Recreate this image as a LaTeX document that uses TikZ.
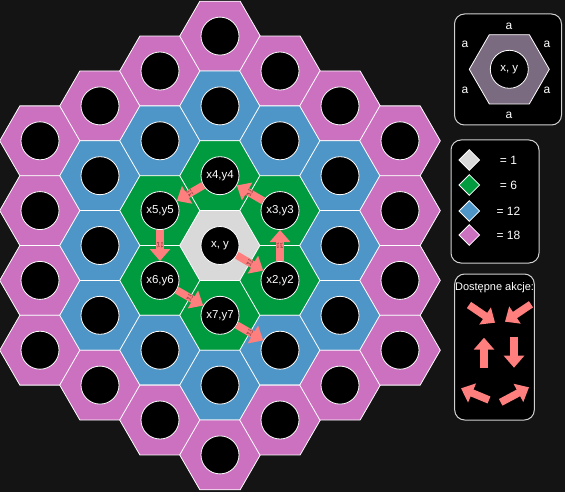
\documentclass[tikz,border=0pt]{standalone}
\usepackage{fontspec}
\setmainfont{Liberation Sans}
\usetikzlibrary{arrows.meta, positioning, shapes.geometric}

\definecolor{bgdark}{HTML}{141414}
\definecolor{ringgray}{HTML}{D9D9D9}
\definecolor{ringgreen}{HTML}{009B3E}
\definecolor{ringblue}{HTML}{4E96C8}
\definecolor{ringpink}{HTML}{CC70C0}
\definecolor{legendhex}{HTML}{7B6B80}
\definecolor{salmon}{HTML}{FF7F7F}
\definecolor{panelline}{HTML}{D0D0D0}

\begin{document}
\begin{tikzpicture}[x=1pt, y=-1pt,
    hexcell/.style={regular polygon, regular polygon sides=6, minimum size=80.6pt, inner sep=0pt, outer sep=0pt, draw=white, line width=0.8pt},
    hole/.style={circle, fill=black, draw=white, line width=0.8pt, minimum size=38pt, inner sep=0pt},
    celltext/.style={text=white, inner sep=0pt, font=\fontsize{11.5}{12}\selectfont},
    keytext/.style={text=white, inner sep=0pt, font=\fontsize{12}{12}\selectfont},
    move/.style={-{Triangle[width=20pt, length=12pt]}, line width=7.5pt, draw=salmon},
    movetag/.style={midway, sloped, inner sep=0pt, align=center, text=black, font=\fontsize{3}{3.5}\selectfont},
    panel/.style={draw=panelline, fill=black, rounded corners=10pt, line width=1pt},
    swatch/.style={diamond, draw=white, line width=0.8pt, minimum width=21pt, minimum height=21pt, inner sep=0pt}
]
    \fill[bgdark] (0,0) rectangle (565,492);
    \useasboundingbox (0,0) rectangle (565,492);

    % board
    \foreach \q in {-3,...,3}{
        \foreach \r in {-3,...,3}{
            \pgfmathtruncatemacro{\d}{max(abs(\q),abs(\r),abs(\q+\r))}
            \pgfmathtruncatemacro{\qi}{\q+3}
            \pgfmathtruncatemacro{\ri}{\r+3}
            \ifnum\d<4
                \ifcase\d \def\hexcol{ringgray}\or \def\hexcol{ringgreen}\or \def\hexcol{ringblue}\else \def\hexcol{ringpink}\fi
                \node[hexcell, fill=\hexcol] (hex\qi\ri) at ({220+60*\q},{245.5+69.8*(\r+\q/2)}) {};
                \node[hole] (cell\qi\ri) at (hex\qi\ri) {};
            \fi
        }
    }

    \foreach \n/\t in {33/{x, y}, 43/{x2,y2}, 42/{x3,y3}, 32/{x4,y4}, 23/{x5,y5}, 24/{x6,y6}, 34/{x7,y7}}
        \node[celltext] (name\n) at (cell\n) {\t};

    \foreach \a/\b in {33/43, 43/42, 42/32, 32/23, 23/24, 24/34, 34/44}
        \draw[move] (cell\a) -- (cell\b) node[movetag] {r=-1\\p=1};

    % legend: cell size
    \node[panel, minimum width=107pt, minimum height=111pt] (sizebox) at (508,69.5) {};
    \node[hexcell, fill=legendhex, minimum size=80pt] (keyhex) at (509.3,69.3) {};
    \node[hole] (keyhole) at (keyhex) {};
    \node[celltext] (keyname) at (keyhole) {x, y};
    \node[keytext] (sidetop) at (509,26) {a};
    \node[keytext] (sideul) at (465,44.7) {a};
    \node[keytext] (sideur) at (547,44.7) {a};
    \node[keytext] (sidell) at (465,90) {a};
    \node[keytext] (sidelr) at (547,90) {a};
    \node[keytext] (sidebot) at (509,115) {a};

    % legend: counts
    \node[panel, minimum width=88pt, minimum height=123pt] (countbox) at (495,201.5) {};
    \foreach \y/\c/\t [count=\i] in {160/ringgray/= 1, 185/ringgreen/= 6, 211/ringblue/= 12, 235/ringpink/= 18}{
        \node[swatch, fill=\c] (swatch\i) at (469.3,\y) {};
        \node[keytext] (count\i) at (508.5,\y) {\t};
    }

    % legend: actions
    \node[panel, minimum width=79.6pt, minimum height=146pt] (actionbox) at (494.5,347) {};
    \node[keytext, font=\fontsize{11}{12}\selectfont] (actiontitle) at (494.5,288) {Dostępne akcje:};
    \draw[move] (469,305) -- (495,322.7);
    \draw[move] (531,304.3) -- (505,321.7);
    \draw[move] (484,367.7) -- (484,337.7);
    \draw[move] (514,336.7) -- (514,367.7);
    \draw[move] (489,400) -- (461,388.3);
    \draw[move] (500.7,402.3) -- (529,387.3);
\end{tikzpicture}
\end{document}
